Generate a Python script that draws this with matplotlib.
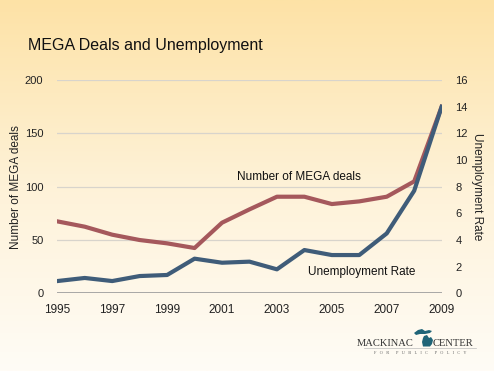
import numpy as np
import matplotlib
matplotlib.use("Agg")
import matplotlib.pyplot as plt
from matplotlib.colors import LinearSegmentedColormap
from matplotlib.patches import Polygon

plt.rcParams['font.family'] = ['Liberation Sans', 'DejaVu Sans']

# data
years = [1995, 1996, 1997, 1998, 1999, 2000, 2001, 2002,
         2003, 2004, 2005, 2006, 2007, 2008, 2009]
# red line, right axis (%)
red_rate = [5.4, 5.0, 4.4, 4.0, 3.75, 3.4, 5.3, 6.3,
            7.25, 7.25, 6.7, 6.9, 7.25, 8.4, 14.0]
# blue line, left axis (count)
blue_deals = [11.5, 14.4, 11.5, 16.2, 17.2, 32.5, 28.7, 29.7,
              22.5, 40.6, 35.9, 35.9, 56.2, 96.2, 175]
left_ticks = [0, 50, 100, 150, 200]
right_ticks = [0, 2, 4, 6, 8, 10, 12, 14, 16]
x_ticks = [1995, 1997, 1999, 2001, 2003, 2005, 2007, 2009]

W, H = 494, 371
fig = plt.figure(figsize=(W / 100, H / 100), dpi=100)

# background gradient
bg = fig.add_axes([0, 0, 1, 1], zorder=-10)
cmap = LinearSegmentedColormap.from_list("bg", ["#fde2a6", "#fef2d8", "#fffcf6"])
grad = np.linspace(0, 1, 256).reshape(-1, 1)
bg.imshow(grad, aspect="auto", cmap=cmap, extent=[0, 1, 0, 1])
bg.axis("off")

ax = fig.add_axes([0.116, 0.2094, 0.778, 0.5746])
ax.patch.set_alpha(0)
ax2 = ax.twinx()

red = "#a5585c"
blue = "#3f5c79"
# both lines share the same scale (200 deals <-> 16 %)
ax.plot(years, [v * 12.5 for v in red_rate], color=red, lw=3.0, zorder=2)
ax.plot(years, blue_deals, color=blue, lw=3.0, zorder=3)

ax.set_xlim(1995, 2009)
ax.set_ylim(0, 200)
ax2.set_ylim(0, 16)
ax.set_xticks(x_ticks)
ax.set_yticks(left_ticks)
ax2.set_yticks(right_ticks)
for a in (ax, ax2):
    for s in a.spines.values():
        s.set_visible(False)
    a.tick_params(length=0, labelsize=8, colors="#222222")
ax.tick_params(axis="x", pad=8)
ax.tick_params(axis="y", pad=10)
ax2.tick_params(axis="y", pad=10)
ax.set_xticklabels([str(t) for t in x_ticks], fontsize=8.5)

for t in left_ticks[1:]:
    ax.axhline(t, color="#d8d4cc", lw=0.9, zorder=0)
ax.axhline(0, color="#9a9a9a", lw=1.2, zorder=1)

ax.set_ylabel("Number of MEGA deals", fontsize=8.5, color="#222222", va="center")
ax.yaxis.set_label_coords(-0.107, 0.5)
ax2.set_ylabel("Unemployment Rate", fontsize=8.5, color="#222222",
               rotation=270, va="center")
ax2.yaxis.set_label_coords(1.091, 0.5)

fig.text(0.057, 0.877, "MEGA Deals and Unemployment", fontsize=11.5,
         color="#111111", va="center")
fig.text(0.48, 0.523, "Number of MEGA deals", fontsize=8.5, color="#111111",
         va="center")
fig.text(0.623, 0.267, "Unemployment Rate", fontsize=8.5, color="#111111",
         va="center")

# logo
fig.text(414 / W, 1 - 346 / H, "MACKINAC", fontsize=7.6, family="Liberation Serif",
         color="#333333", ha="right", va="baseline")
fig.text(433 / W, 1 - 346 / H, "CENTER", fontsize=7.6, family="Liberation Serif",
         color="#333333", ha="left", va="baseline")
fig.text(420 / W, 1 - 352.5 / H,
         "F   O   R      P   U   B   L   I   C      P   O   L   I   C   Y",
         fontsize=3.2, family="Liberation Serif", color="#666666",
         ha="center", va="center")
fig.add_artist(plt.Line2D([364 / W, 476 / W], [1 - 348 / H, 1 - 348 / H],
                          color="#bbbbbb", lw=0.5))
upper = [(414, 333), (418, 330), (422, 329), (425, 331), (429, 330), (432, 331),
         (430, 333), (425, 334), (420, 334), (416, 335)]
lower = [(424, 336), (427, 335), (429, 338), (431, 337), (433, 340), (432, 344),
         (430, 346.5), (423, 346.5), (422, 342), (423, 338)]
for shape in (upper, lower):
    fig.add_artist(Polygon([(x / W, 1 - y / H) for x, y in shape], closed=True,
                           transform=fig.transFigure, color="#1f6477", lw=0))

fig.savefig("out.png", dpi=100)
